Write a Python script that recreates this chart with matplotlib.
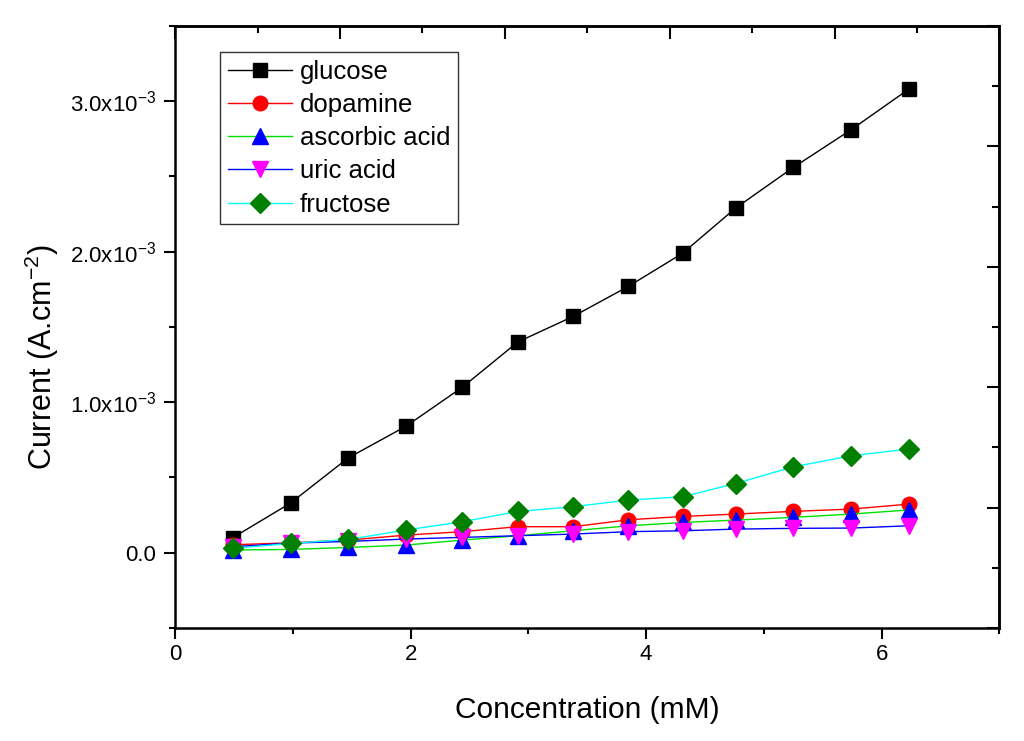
import matplotlib
matplotlib.use('Agg')
import matplotlib.pyplot as plt
from matplotlib.ticker import MultipleLocator, FuncFormatter

plt.rcParams['font.family'] = ['Liberation Sans', 'DejaVu Sans']
plt.rcParams['mathtext.fontset'] = 'custom'
plt.rcParams['mathtext.rm'] = 'Liberation Sans'
plt.rcParams['mathtext.it'] = 'Liberation Sans:italic'

# concentration (mM)
conc = [0.49, 0.98, 1.47, 1.96, 2.44, 2.91, 3.38, 3.85, 4.31, 4.76, 5.25, 5.74, 6.23]

# current density (A.cm-2)
glucose = [0.10e-3, 0.33e-3, 0.63e-3, 0.84e-3, 1.10e-3, 1.40e-3, 1.57e-3,
           1.77e-3, 1.99e-3, 2.29e-3, 2.56e-3, 2.81e-3, 3.08e-3]
dopamine = [0.053e-3, 0.066e-3, 0.084e-3, 0.117e-3, 0.140e-3, 0.173e-3, 0.173e-3,
            0.219e-3, 0.241e-3, 0.257e-3, 0.275e-3, 0.290e-3, 0.323e-3]
ascorbic = [0.018e-3, 0.022e-3, 0.035e-3, 0.051e-3, 0.084e-3, 0.113e-3, 0.146e-3,
            0.179e-3, 0.201e-3, 0.217e-3, 0.235e-3, 0.257e-3, 0.284e-3]
uric = [0.040e-3, 0.064e-3, 0.075e-3, 0.091e-3, 0.102e-3, 0.113e-3, 0.124e-3,
        0.140e-3, 0.146e-3, 0.157e-3, 0.162e-3, 0.164e-3, 0.179e-3]
fructose = [0.029e-3, 0.062e-3, 0.088e-3, 0.151e-3, 0.206e-3, 0.274e-3, 0.306e-3,
            0.350e-3, 0.372e-3, 0.460e-3, 0.571e-3, 0.644e-3, 0.689e-3]

fig = plt.figure(figsize=(10.24, 7.41), dpi=100)
ax = fig.add_axes([0.171, 0.1525, 0.805, 0.8125])

# (label, data, line colour, marker, marker colour, size)
series = [
    ('glucose', glucose, 'black', 's', 'black', 9.5),
    ('dopamine', dopamine, 'red', 'o', 'red', 10.5),
    ('ascorbic acid', ascorbic, '#00e000', '^', 'blue', 11),
    ('uric acid', uric, 'blue', 'v', 'magenta', 11),
    ('fructose', fructose, 'cyan', 'D', 'green', 10.5),
]
for name, vals, lc, mk, mc, ms in series:
    ax.plot(conc, vals, color=lc, lw=1, marker=mk, ms=ms,
            markerfacecolor=mc, markeredgecolor=mc, label=name)

ax.set_xlim(0, 7)
ax.set_ylim(-0.5e-3, 3.5e-3)
ax.xaxis.set_major_locator(MultipleLocator(2))
ax.xaxis.set_minor_locator(MultipleLocator(1))
ax.yaxis.set_major_locator(MultipleLocator(1e-3))
ax.yaxis.set_minor_locator(MultipleLocator(0.5e-3))

def yfmt(v, pos):
    if abs(v) < 1e-9:
        return '0.0'
    return '%.1fx10$^{-3}$' % (v * 1e3)
ax.yaxis.set_major_formatter(FuncFormatter(yfmt))

ax.tick_params(which='major', direction='out', length=8, width=1.5, labelsize=16,
               top=False, right=False)
ax.tick_params(axis='y', which='major', pad=6)
ax.tick_params(which='minor', direction='out', length=4, width=1.5,
               top=False, right=False)
for s in ax.spines.values():
    s.set_linewidth(1.8)

# opposite axes in Origin style, unlabelled
top = ax.secondary_xaxis('top', functions=(lambda x: x / 7.0, lambda f: f * 7.0))
top.xaxis.set_major_locator(MultipleLocator(0.2))
top.xaxis.set_minor_locator(MultipleLocator(0.1))
top.tick_params(which='major', direction='in', length=9, width=1.5, labeltop=False)
top.tick_params(which='minor', direction='in', length=5, width=1.5)
top.spines['top'].set_linewidth(1.8)

right = ax.secondary_yaxis('right', functions=(lambda y: (y + 0.5e-3) / 4e-3,
                                                lambda f: f * 4e-3 - 0.5e-3))
right.yaxis.set_major_locator(MultipleLocator(0.2))
right.yaxis.set_minor_locator(MultipleLocator(0.1))
right.tick_params(which='major', direction='in', length=9, width=1.5, labelright=False)
right.tick_params(which='minor', direction='in', length=5, width=1.5)
right.spines['right'].set_linewidth(1.8)

ax.set_xlabel('Concentration (mM)', fontsize=21.5, labelpad=22)
ax.set_ylabel('Current (A.cm$^{-2}$)', fontsize=22)
ax.yaxis.set_label_coords(-0.138, 0.45)

leg = ax.legend(loc='upper left', bbox_to_anchor=(0.0546, 0.957), borderaxespad=0,
                fontsize=18.5, handlelength=2.5, labelspacing=0.36, handletextpad=0.3,
                borderpad=0.3, fancybox=False, edgecolor='#333333', framealpha=1)
leg.get_frame().set_linewidth(1.0)

fig.savefig('out.png', dpi=100)
